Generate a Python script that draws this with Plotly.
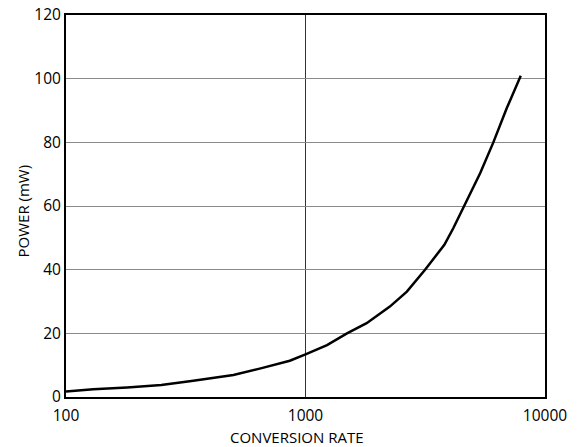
import plotly.graph_objects as go

conversion_rate = [100, 130, 180, 250, 340, 500, 650, 860, 1000, 1230, 1490, 1800,
                   2250, 2650, 3150, 3800, 4140, 4600, 5360, 6080, 6920, 7920]
power_mw = [1.7, 2.4, 3.0, 3.8, 5.1, 6.9, 9.0, 11.4, 13.4, 16.3, 20.0, 23.2,
            28.4, 33.1, 39.9, 47.8, 53.0, 60.0, 70.3, 79.9, 90.7, 100.9]

x_ticks = [100, 1000, 10000]
x_tick_labels = ["100", "1000", "10000"]
y_ticks = [0, 20, 40, 60, 80, 100, 120]
x_title = "CONVERSION RATE"
y_title = "POWER (mW)"

FONT = "Open Sans"

fig = go.Figure()
fig.add_trace(go.Scatter(
    x=conversion_rate, y=power_mw, mode="lines",
    line=dict(color="#000000", width=2.5),
    showlegend=False,
))

fig.update_layout(
    width=577, height=447,
    margin=dict(l=66, r=32, t=15, b=50),
    paper_bgcolor="white", plot_bgcolor="white",
    font=dict(family=FONT, size=15, color="#000000", weight=500),
)
fig.update_xaxes(
    type="log", range=[2, 4], automargin=False,
    tickvals=x_ticks, ticktext=x_tick_labels,
    tickfont=dict(size=15.5, weight=500), ticklabelstandoff=3,
    showgrid=True, gridcolor="#333333", gridwidth=1.3,
    showline=True, linecolor="#000000", linewidth=2, mirror=True,
    ticks="", zeroline=False,
)
fig.update_yaxes(
    range=[0, 120], tickvals=y_ticks, automargin=False,
    tickfont=dict(size=15.5, weight=500),
    showgrid=True, gridcolor="#8a8a8a", gridwidth=1.3,
    showline=True, linecolor="#000000", linewidth=2, mirror=True,
    ticks="", zeroline=False,
)
fig.add_annotation(
    text=x_title, xref="paper", yref="paper", x=0.4816, y=-0.105,
    xanchor="center", yanchor="middle", showarrow=False,
    font=dict(size=15, weight=500),
)
fig.add_annotation(
    text=y_title, xref="paper", yref="paper", x=-0.09, y=0.488,
    xanchor="center", yanchor="middle", showarrow=False, textangle=-90,
    font=dict(size=15, weight=500),
)

fig.write_html("out.html", config={"displayModeBar": False},
               post_script="document.body.style.margin='0';")
